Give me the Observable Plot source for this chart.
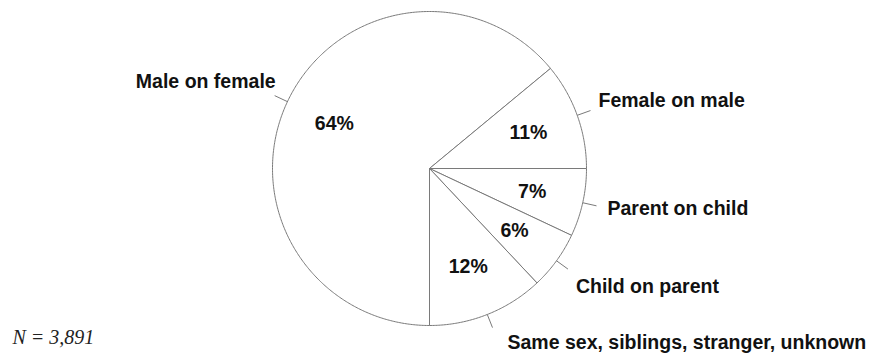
<!DOCTYPE html>
<html>
<head>
<meta charset="utf-8">
<script src="https://cdn.jsdelivr.net/npm/d3@7"></script>
<script src="https://cdn.jsdelivr.net/npm/@observablehq/plot@0.6"></script>
<style>
  body { margin: 0; background: #fff; }
  #chart svg { display: block; }
</style>
</head>
<body>
<div id="chart"></div>
<script>
// Offender/victim relationship shares
const categories = ["Male on female", "Female on male", "Parent on child", "Child on parent", "Same sex, siblings, stranger, unknown"];
const shares = [64, 11, 7, 6, 12];
const percentLabels = ["64%", "11%", "7%", "6%", "12%"];
const sampleSize = "N = 3,891";

// Label placement relative to the end of each leader line (pixels)
const labelLayout = [
  {anchor: "end",   dx: 1,  dy: -14},
  {anchor: "start", dx: 8,  dy: -10},
  {anchor: "start", dx: 11, dy: 3},
  {anchor: "start", dx: 8,  dy: 18},
  {anchor: "start", dx: 15, dy: 15}
];

const labelFont = "'Liberation Sans', Arial, Helvetica, sans-serif";

// Slices run clockwise starting from six o'clock
const slices = d3.pie().sort(null).startAngle(Math.PI).endAngle(3 * Math.PI)(shares);
// angle measured clockwise from twelve o'clock, y pointing up
const polar = (a, r) => ({x: r * Math.sin(a), y: r * Math.cos(a)});

const wedgePoints = [];
slices.forEach((s, i) => {
  const n = Math.max(2, Math.ceil((s.endAngle - s.startAngle) / 0.01));
  wedgePoints.push({k: i, x: 0, y: 0});
  for (let j = 0; j <= n; j++) {
    const a = s.startAngle + (s.endAngle - s.startAngle) * j / n;
    wedgePoints.push({k: i, ...polar(a, 1)});
  }
  wedgePoints.push({k: i, x: 0, y: 0});
});

const mids = slices.map((s, i) => ({i, a: (s.startAngle + s.endAngle) / 2}));
const pctData = mids.map(d => ({label: percentLabels[d.i], ...polar(d.a, 0.67)}));
const leaders = mids.map(d => {
  const p1 = polar(d.a, 1), p2 = polar(d.a, 1.09);
  return {x1: p1.x, y1: p1.y, x2: p2.x, y2: p2.y, label: categories[d.i]};
});

const chart = Plot.plot({
  width: 875,
  height: 360,
  margin: 0,
  x: {axis: null, domain: [-1, 1], range: [272, 586]},
  y: {axis: null, domain: [-1, 1], range: [325, 11]},
  style: {background: "#fff"},
  marks: [
    Plot.line(wedgePoints, {x: "x", y: "y", z: "k", fill: "white", stroke: "#7a7a7a", strokeWidth: 1, curve: "linear"}),
    Plot.link(leaders, {x1: "x1", y1: "y1", x2: "x2", y2: "y2", stroke: "#7a7a7a", strokeWidth: 1}),
    Plot.text(pctData, {x: "x", y: "y", text: "label", fontSize: 19.5, fontWeight: "bold", fontFamily: labelFont, fill: "#111"}),
    ...leaders.map((d, i) => Plot.text([d], {
      x: "x2", y: "y2", text: "label",
      textAnchor: labelLayout[i].anchor, dx: labelLayout[i].dx, dy: labelLayout[i].dy,
      fontSize: 19.5, fontWeight: "bold", fontFamily: labelFont, fill: "#111"
    })),
    Plot.text([sampleSize], {
      frameAnchor: "bottom-left", text: d => d, textAnchor: "start", dx: 12, dy: -17,
      fontSize: 20, fontStyle: "italic", fontFamily: "'Liberation Serif', 'Times New Roman', serif", fill: "#222"
    })
  ]
});

document.getElementById("chart").appendChild(chart);
</script>
</body>
</html>
